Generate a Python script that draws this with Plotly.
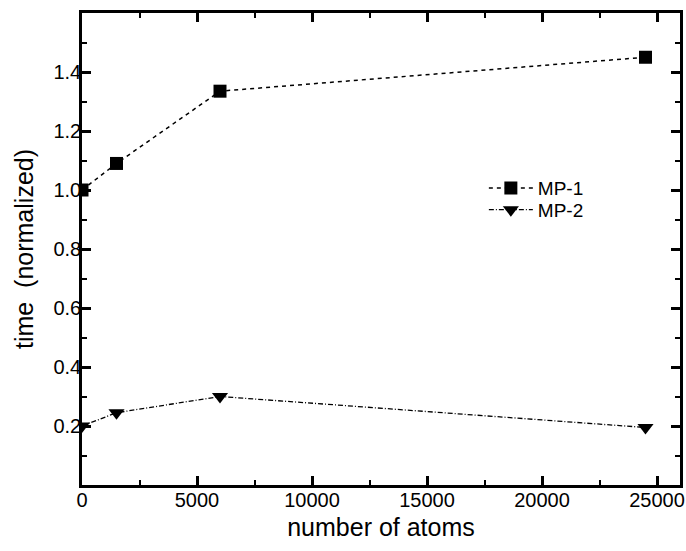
import plotly.graph_objects as go

atoms = [0, 1500, 6000, 24500]
mp1 = [1.00, 1.09, 1.335, 1.45]
mp2 = [0.20, 0.245, 0.30, 0.195]
y_ticks = [0.2, 0.4, 0.6, 0.8, 1.0, 1.2, 1.4]
y_ticklabels = ["0.2", "0.4", "0.6", "0.8", "1.0", "1.2", "1.4"]
x_ticks = [0, 5000, 10000, 15000, 20000, 25000]
x_ticklabels = ["0", "5000", "10000", "15000", "20000", "25000"]

font = "Liberation Sans, Arial, Helvetica, sans-serif"

fig = go.Figure()
fig.add_trace(go.Scatter(
    x=atoms, y=mp1, name="MP-1", mode="lines+markers", legend="legend",
    line=dict(color="black", width=1.5, dash="4px,4px"),
    marker=dict(symbol="square", size=13, color="black"),
))
fig.add_trace(go.Scatter(
    x=atoms, y=mp2, name="MP-2", mode="lines+markers", legend="legend2",
    line=dict(color="black", width=1.3, dash="5px,2px,1px,2px"),
    marker=dict(symbol="triangle-down", size=14, color="black"),
))

axis_common = dict(
    showline=True, linecolor="black", linewidth=2.5, mirror="ticks",
    ticks="inside", ticklen=9, tickwidth=2.5, tickcolor="black",
    showgrid=False, zeroline=False, automargin=False,
    ticklabeloverflow="allow",
    tickfont=dict(family=font, size=20, color="black"),
)

fig.update_xaxes(
    range=[0, 26000], tickvals=x_ticks, ticktext=x_ticklabels,
    ticklabelstandoff=-5,
    title=dict(text="number of atoms", font=dict(family=font, size=25, color="black"), standoff=9),
    minor=dict(ticks="inside", ticklen=5, tickwidth=2, tickcolor="black", dtick=2500, tick0=0, showgrid=False),
    **axis_common,
)
fig.update_yaxes(
    range=[0, 1.6], tickvals=y_ticks, ticktext=y_ticklabels,
    ticklabelstandoff=-6,
    title=dict(text="time  (normalized)", font=dict(family=font, size=25, color="black"), standoff=13),
    minor=dict(ticks="inside", ticklen=5, tickwidth=2, tickcolor="black", dtick=0.1, tick0=0, showgrid=False),
    **axis_common,
)

legend_common = dict(
    xanchor="left", yanchor="middle",
    font=dict(family=font, size=19, color="black"),
    bgcolor="rgba(0,0,0,0)", itemwidth=44,
)

fig.update_layout(
    width=686, height=551,
    margin=dict(l=82, r=6, t=13, b=66),
    paper_bgcolor="white", plot_bgcolor="white",
    showlegend=True,
    legend=dict(x=0.672, y=0.629, **legend_common),
    legend2=dict(x=0.672, y=0.583, **legend_common),
)

# remove the page's default 8px body margin so the figure fills the window exactly
fig.write_html(
    "out.html",
    config={"displayModeBar": False},
    post_script=(
        "document.body.style.margin='0';"
        "document.documentElement.style.overflow='hidden';"
        "document.body.style.overflow='hidden';"
    ),
)
